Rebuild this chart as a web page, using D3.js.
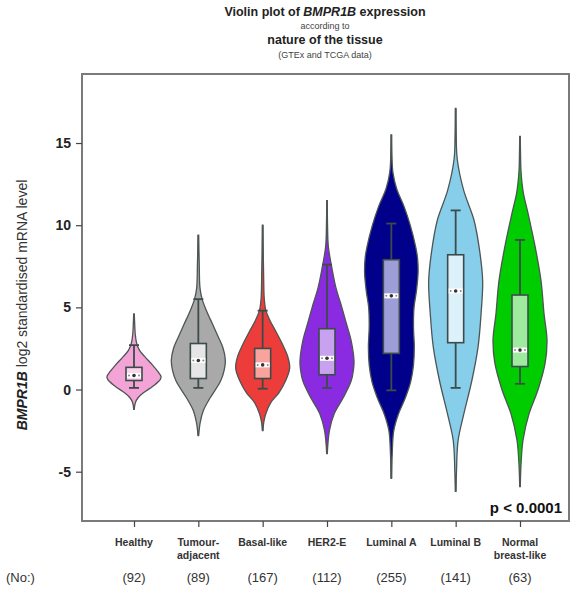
<!DOCTYPE html>
<html><head><meta charset="utf-8">
<script src="https://cdn.jsdelivr.net/npm/d3@7"></script>
<style>body{margin:0;background:#fff;} svg{display:block;font-family:Arial,"Liberation Sans",sans-serif;}</style>
</head><body>
<svg id="chart" width="572" height="599"></svg>
<script>
const categories = ["Healthy","Tumour-adjacent","Basal-like","HER2-E","Luminal A","Luminal B","Normal breast-like"];
const labelLines = [["Healthy"],["Tumour-","adjacent"],["Basal-like"],["HER2-E"],["Luminal A"],["Luminal B"],["Normal","breast-like"]];
const counts = [92, 89, 167, 112, 255, 141, 63];
const yTicks = [-5, 0, 5, 10, 15];
// relative density profiles: [value, density 0..1]
const densHealthy = [[-1.2,0.01],[-0.8,0.05],[-0.5,0.15],[-0.2,0.35],[0.2,0.7],[0.6,0.97],[0.8,1.0],[1.1,0.88],[1.5,0.68],[2.0,0.4],[2.4,0.2],[2.8,0.1],[3.3,0.05],[4.0,0.025],[4.6,0.01]];
const densTumourAdj = [[-2.8,0.01],[-2.0,0.07],[-1.3,0.18],[-0.5,0.44],[0.5,0.82],[1.2,0.96],[1.8,1.0],[2.5,0.92],[3.2,0.74],[4.0,0.52],[4.8,0.3],[5.5,0.14],[6.2,0.06],[7.5,0.035],[8.5,0.02],[9.4,0.01]];
const densBasal = [[-2.5,0.01],[-2.0,0.04],[-1.5,0.11],[-0.8,0.3],[-0.2,0.6],[0.5,0.84],[1.3,1.0],[2.0,0.93],[2.7,0.75],[3.5,0.5],[4.2,0.27],[4.8,0.12],[5.5,0.06],[7,0.035],[8.5,0.02],[10,0.01]];
const densHER2 = [[-3.9,0.01],[-2.5,0.09],[-1.5,0.26],[-0.5,0.6],[0.5,0.89],[1.2,0.98],[1.75,1.0],[3.0,0.89],[4.0,0.72],[5.0,0.55],[6.2,0.33],[7.4,0.18],[8.7,0.05],[10,0.02],[11.5,0.01]];
const densLumA = [[-5.4,0.01],[-4,0.03],[-2.5,0.09],[-1.5,0.26],[-0.5,0.52],[0.5,0.72],[1.5,0.82],[2.6,0.85],[3.8,0.82],[5.0,0.84],[6.0,0.93],[7.1,0.99],[8.0,0.97],[8.7,0.9],[10,0.7],[11.1,0.48],[12.2,0.2],[13.2,0.06],[14.3,0.02],[15.5,0.01]];
const densLumB = [[-6.2,0.01],[-5,0.03],[-3.1,0.09],[-1.5,0.3],[0.55,0.6],[2.6,0.83],[4.6,0.94],[6.6,1.0],[8.3,0.9],[10.3,0.68],[12.1,0.3],[14,0.06],[15.5,0.02],[17.1,0.01]];
const densNormal = [[-5.9,0.01],[-4.5,0.04],[-3.1,0.11],[-1.5,0.33],[0,0.67],[1.6,0.93],[3,1.0],[4.6,0.89],[6.6,0.78],[8.7,0.56],[10.7,0.3],[12,0.12],[13.2,0.04],[14.3,0.02],[15.4,0.01]];
const densities = [densHealthy, densTumourAdj, densBasal, densHER2, densLumA, densLumB, densNormal];
// box statistics
const q1 = [0.55, 0.67, 0.67, 0.9, 2.2, 2.85, 1.4];
const medians = [0.85, 1.77, 1.5, 1.9, 5.7, 6.0, 2.4];
const q3 = [1.35, 2.8, 2.5, 3.7, 7.9, 8.2, 5.75];
const whiskerLow = [0.1, 0.1, 0.05, 0.1, -0.05, 0.1, 0.35];
const whiskerHigh = [2.7, 5.5, 4.8, 7.6, 10.1, 10.9, 9.1];
const violinColors = ["#f3a3d6","#a9a9a9","#ec3d3b","#8a2be2","#00008b","#87ceeb","#00cd00"];
const boxColors = ["#f9d6ec","#e6e6e6","#f8a49c","#c8a2ee","#9d9dd8","#dcf1fa","#9eea9e"];

const svg = d3.select("#chart");
const L = 82, R = 569, T = 74, B = 521;
const y = d3.scaleLinear().domain([-8, 19.2]).range([B, T]);
const x = d3.scalePoint().domain(categories).range([134, 520]);
const w = d3.scaleLinear().domain([0, 1]).range([0, 27]);

// title
const tg = svg.append("g").attr("text-anchor","middle").attr("fill","#222");
const t1 = tg.append("text").attr("x",325).attr("y",16).attr("font-size",12.5).attr("font-weight","bold");
t1.append("tspan").text("Violin plot of ");
t1.append("tspan").attr("font-style","italic").text("BMPR1B");
t1.append("tspan").text(" expression");
tg.append("text").attr("x",325).attr("y",29).attr("font-size",9).attr("fill","#444").text("according to");
tg.append("text").attr("x",325).attr("y",44).attr("font-size",12.5).attr("font-weight","bold").text("nature of the tissue");
tg.append("text").attr("x",325).attr("y",58).attr("font-size",9).attr("fill","#444").text("(GTEx and TCGA data)");

// frame
svg.append("rect").attr("x",L).attr("y",T).attr("width",R-L).attr("height",B-T)
  .attr("fill","none").attr("stroke","#7a7a7a").attr("stroke-width",2);

// y axis
const yAxis = d3.axisLeft(y).tickValues(yTicks).tickSize(6).tickPadding(5).tickFormat(d=>String(d));
const ya = svg.append("g").attr("transform",`translate(${L},0)`).call(yAxis);
ya.select(".domain").remove();
ya.selectAll("line").attr("stroke","#444").attr("stroke-width",1.2);
ya.selectAll("text").attr("font-size",14).attr("font-weight","bold").attr("fill","#222").attr("font-family","Arial,'Liberation Sans',sans-serif");

// x axis
const xAxis = d3.axisBottom(x).tickSize(6).tickFormat("");
const xa = svg.append("g").attr("transform",`translate(0,${B})`).call(xAxis);
xa.select(".domain").remove();
xa.selectAll("line").attr("stroke","#444").attr("stroke-width",1.2);

// category labels
categories.forEach((c,i)=>{
  const t = svg.append("text").attr("x",x(c)).attr("y",546).attr("text-anchor","middle")
    .attr("font-size",10.5).attr("font-weight","bold").attr("fill","#333");
  labelLines[i].forEach((ln,j)=>t.append("tspan").attr("x",x(c)).attr("dy",j?13:0).text(ln));
  svg.append("text").attr("x",x(c)).attr("y",582).attr("text-anchor","middle")
    .attr("font-size",13).attr("fill","#333").text(`(${counts[i]})`);
});
svg.append("text").attr("x",6).attr("y",582).attr("font-size",13).attr("fill","#333").text("(No:)");

// y label
const yl = svg.append("text").attr("transform","translate(27,305) rotate(-90)").attr("text-anchor","middle")
  .attr("font-size",14).attr("fill","#333");
yl.append("tspan").attr("font-weight","bold").attr("font-style","italic").attr("fill","#222").text("BMPR1B");
yl.append("tspan").text(" log2 standardised mRNA level");

// violins
const area = d3.area().curve(d3.curveCatmullRom.alpha(0.5))
  .y(d=>y(d[0]));
categories.forEach((c,i)=>{
  const cx = x(c);
  const dens = densities[i];
  const g = svg.append("g");
  // tail line
  g.append("line").attr("x1",cx).attr("x2",cx)
    .attr("y1",y(dens[0][0])).attr("y2",y(dens[dens.length-1][0]))
    .attr("stroke","#4a5656").attr("stroke-width",1.6);
  g.append("path").datum(dens)
    .attr("d", area.x0(d=>cx-w(d[1])).x1(d=>cx+w(d[1])))
    .attr("fill",violinColors[i]).attr("stroke","#4d5555").attr("stroke-width",1.3);
  // whisker
  g.append("line").attr("x1",cx).attr("x2",cx).attr("y1",y(whiskerLow[i])).attr("y2",y(whiskerHigh[i]))
    .attr("stroke","#3d4b4b").attr("stroke-width",1.8);
  [whiskerLow[i], whiskerHigh[i]].forEach(v=>{
    g.append("line").attr("x1",cx-5).attr("x2",cx+5).attr("y1",y(v)).attr("y2",y(v))
      .attr("stroke","#3d4b4b").attr("stroke-width",1.8);
  });
  const bw = 16;
  g.append("rect").attr("x",cx-bw/2).attr("width",bw).attr("y",y(q3[i])).attr("height",y(q1[i])-y(q3[i]))
    .attr("fill",boxColors[i]).attr("stroke","#3d4b4b").attr("stroke-width",1.6);
  // median marker
  g.append("rect").attr("x",cx-bw/2+1).attr("width",bw-2).attr("y",y(medians[i])-2.5).attr("height",5)
    .attr("fill","#ffffff");
  [-5,5].forEach(dx=>g.append("circle").attr("cx",cx+dx).attr("cy",y(medians[i])).attr("r",1)
    .attr("fill","#888"));
  g.append("circle").attr("cx",cx).attr("cy",y(medians[i])).attr("r",1.8).attr("fill","#333");
});

// p value
svg.append("text").attr("x",562).attr("y",513).attr("text-anchor","end").attr("font-size",15)
  .attr("font-weight","bold").attr("fill","#111").text("p < 0.0001");
</script>
</body></html>
